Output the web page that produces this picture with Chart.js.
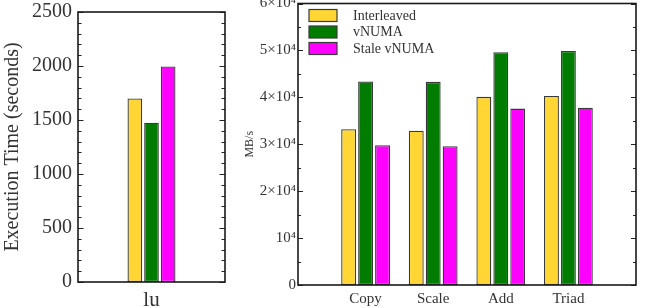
<!DOCTYPE html>
<html>
<head>
<meta charset="utf-8">
<script src="https://cdn.jsdelivr.net/npm/chart.js@4/dist/chart.umd.min.js"></script>
<style>
  html, body { margin: 0; padding: 0; background: #fff; }
  #wrap { position: relative; width: 645px; height: 308px; overflow: hidden; }
  #c1 { position: absolute; left: 0; top: 0; }
  #c2 { position: absolute; left: 236px; top: 0; }
</style>
</head>
<body>
<div id="wrap">
  <canvas id="c1" width="236" height="308"></canvas>
  <canvas id="c2" width="409" height="308"></canvas>
</div>
<script>
// ---- data ----
const seriesNames = ['Interleaved', 'vNUMA', 'Stale vNUMA'];

const luCategories = ['lu'];
const luInterleaved = [1700];
const luVNUMA = [1475];
const luStaleVNUMA = [1995];
const luYTicks = [0, 500, 1000, 1500, 2000, 2500];

const streamCategories = ['Copy', 'Scale', 'Add', 'Triad'];
const streamInterleaved = [33200, 32900, 40100, 40300];
const streamVNUMA = [43400, 43300, 49600, 49900];
const streamStaleVNUMA = [29800, 29600, 37600, 37800];
const streamYTickValues = [0, 10000, 20000, 30000, 40000, 50000, 60000];
const streamYTickLabels = ['0', '10\u2074', '2\u00d710\u2074', '3\u00d710\u2074', '4\u00d710\u2074', '5\u00d710\u2074', '6\u00d710\u2074'];

// ---- style ----
const colors = ['#FFD633', '#007D00', '#FF00FF'];
const borderCol = '#3a3a3a';
const serif = "'Liberation Serif', 'Times New Roman', serif";
const textCol = '#333';

function frameTicksPlugin(minorStep, majorLen, minorLen) {
  return {
    id: 'frameTicks',
    afterDatasetsDraw(chart) {
      const ctx = chart.ctx;
      const a = chart.chartArea;
      const y = chart.scales.y;
      ctx.save();
      ctx.strokeStyle = '#222';
      ctx.lineWidth = 1.2;
      for (let v = y.min; v <= y.max + 1e-9; v += minorStep) {
        const p = Math.round(y.getPixelForValue(v)) + 0.5;
        const isMajor = y.ticks.some(t => Math.abs(t.value - v) < 1e-6);
        const len = isMajor ? majorLen : minorLen;
        ctx.beginPath();
        ctx.moveTo(a.left, p); ctx.lineTo(a.left + len, p);
        ctx.moveTo(a.right, p); ctx.lineTo(a.right - len, p);
        ctx.stroke();
      }
      ctx.lineWidth = 1.6;
      ctx.strokeStyle = '#1a1a1a';
      ctx.strokeRect(a.left, a.top, a.right - a.left, a.bottom - a.top);
      ctx.restore();
    }
  };
}

const legendPlugin = {
  id: 'insideLegend',
  afterDraw(chart) {
    const ctx = chart.ctx;
    const a = chart.chartArea;
    ctx.save();
    ctx.font = '14px ' + serif;
    ctx.textBaseline = 'middle';
    ctx.textAlign = 'left';
    chart.data.datasets.forEach((ds, i) => {
      const bx = a.left + 11, by = a.top + 6 + i * 16.5;
      ctx.fillStyle = ds.backgroundColor;
      ctx.fillRect(bx, by, 28, 12);
      ctx.strokeStyle = borderCol;
      ctx.lineWidth = 1.2;
      ctx.strokeRect(bx, by, 28, 12);
      ctx.fillStyle = textCol;
      ctx.fillText(ds.label, bx + 44, by + 6.5);
    });
    ctx.restore();
  }
};

function makeDatasets(arrs) {
  return arrs.map((d, i) => ({
    label: seriesNames[i],
    data: d,
    backgroundColor: colors[i],
    borderColor: borderCol,
    borderWidth: 1.3,
    borderSkipped: false,
    barPercentage: 0.88,
  }));
}

function fixPad(scale) {
  scale.paddingTop = 0; scale.paddingBottom = 0;
  scale.paddingLeft = 0; scale.paddingRight = 0;
}

// ---- left chart ----
new Chart(document.getElementById('c1'), {
  type: 'bar',
  data: {
    labels: luCategories,
    datasets: makeDatasets([luInterleaved, luVNUMA, luStaleVNUMA]).map(d => Object.assign(d, { categoryPercentage: 0.34 }))
  },
  options: {
    responsive: false,
    animation: false,
    layout: { padding: { left: 0, right: 11, top: 12, bottom: 0 } },
    plugins: { legend: { display: false }, tooltip: { enabled: false } },
    scales: {
      x: {
        grid: { display: false, drawTicks: false },
        border: { display: false },
        ticks: { font: { family: serif, size: 21 }, color: textCol, padding: 6 },
        afterFit(s) { s.height = 26; fixPad(s); }
      },
      y: {
        min: 0, max: 2500,
        afterBuildTicks(s) { s.ticks = luYTicks.map(v => ({ value: v })); },
        grid: { display: false, drawTicks: false },
        border: { display: false },
        ticks: { font: { family: serif, size: 20 }, color: textCol, padding: 6, callback: v => String(v) },
        title: {
          display: true, text: 'Execution Time (seconds)',
          font: { family: serif, size: 20 }, color: textCol,
          padding: { top: 1, bottom: 0 }
        },
        afterFit(s) { s.width = 78; fixPad(s); }
      }
    }
  },
  plugins: [frameTicksPlugin(100, 5.5, 3.5)]
});

// ---- right chart ----
const paddedLabels = [''].concat(streamCategories, ['']);
const pad = arr => [null].concat(arr, [null]);

new Chart(document.getElementById('c2'), {
  type: 'bar',
  data: {
    labels: paddedLabels,
    datasets: makeDatasets([pad(streamInterleaved), pad(streamVNUMA), pad(streamStaleVNUMA)]).map(d => Object.assign(d, { categoryPercentage: 0.752 }))
  },
  options: {
    responsive: false,
    animation: false,
    layout: { padding: { left: 0, right: 9, top: 3.5, bottom: 0 } },
    plugins: { legend: { display: false }, tooltip: { enabled: false } },
    scales: {
      x: {
        offset: false,
        grid: { display: false, drawTicks: false, offset: false },
        border: { display: false },
        ticks: { font: { family: serif, size: 15 }, color: textCol, padding: 5, autoSkip: false, maxRotation: 0 },
        afterFit(s) { s.height = 23; fixPad(s); }
      },
      y: {
        min: 0, max: 60000,
        afterBuildTicks(s) { s.ticks = streamYTickValues.map(v => ({ value: v })); },
        grid: { display: false, drawTicks: false },
        border: { display: false },
        ticks: {
          font: { family: serif, size: 15 }, color: textCol, padding: 2,
          callback: (v) => streamYTickLabels[streamYTickValues.indexOf(v)]
        },
        title: {
          display: true, text: 'MB/s',
          font: { family: serif, size: 12 }, color: textCol,
          padding: { top: 7, bottom: 0 }
        },
        afterFit(s) { s.width = 62; fixPad(s); }
      }
    }
  },
  plugins: [frameTicksPlugin(5000, 5, 3), legendPlugin]
});
</script>
</body>
</html>
